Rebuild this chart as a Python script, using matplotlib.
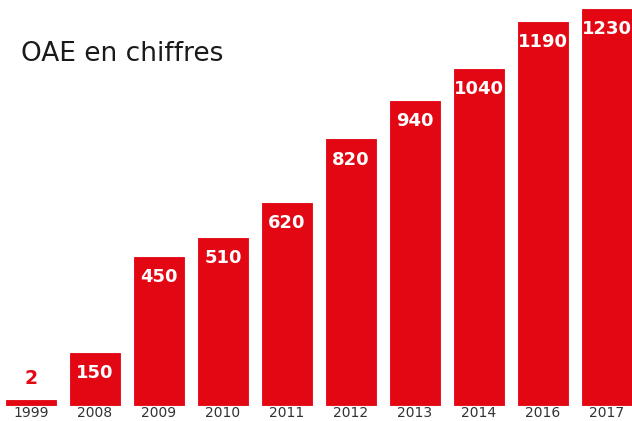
import numpy as np
import matplotlib.pyplot as plt

years = ['1999', '2008', '2009', '2010', '2011', '2012', '2013', '2014', '2016', '2017']
values = [2, 150, 450, 510, 620, 820, 940, 1040, 1190, 1230]

red = '#e30613'

fig = plt.figure(figsize=(6.32, 4.21), dpi=100)
ax = fig.add_axes([0, 15 / 421, 1, 406 / 421])

x = np.arange(len(years))
ax.bar(x, values, width=45.5 / 64, color=red, edgecolor=red, linewidth=3.5)
ax.set_xlim(-31 / 64, 601 / 64)
ax.set_ylim(-10, 1264)

for xi, v in zip(x, values):
    if v < 50:
        ax.annotate(str(v), (xi, v), xytext=(0, 10), textcoords='offset points',
                    ha='center', va='bottom', color=red, fontsize=13.5, fontweight='bold')
    else:
        ax.annotate(str(v), (xi, v), xytext=(0, -13), textcoords='offset points',
                    ha='center', va='center', color='white', fontsize=13, fontweight='bold')

for xi, yr in zip(x, years):
    fig.text((31 + 64 * xi) / 632, 1 / 421, yr, ha='center', va='bottom',
             fontsize=10, color='#333333')

fig.text(21 / 632, 1 - 54 / 421, 'OAE en chiffres', ha='left', va='center',
         fontsize=19, color='#1a1a1a')

ax.axis('off')
fig.savefig('out.png', dpi=100)
